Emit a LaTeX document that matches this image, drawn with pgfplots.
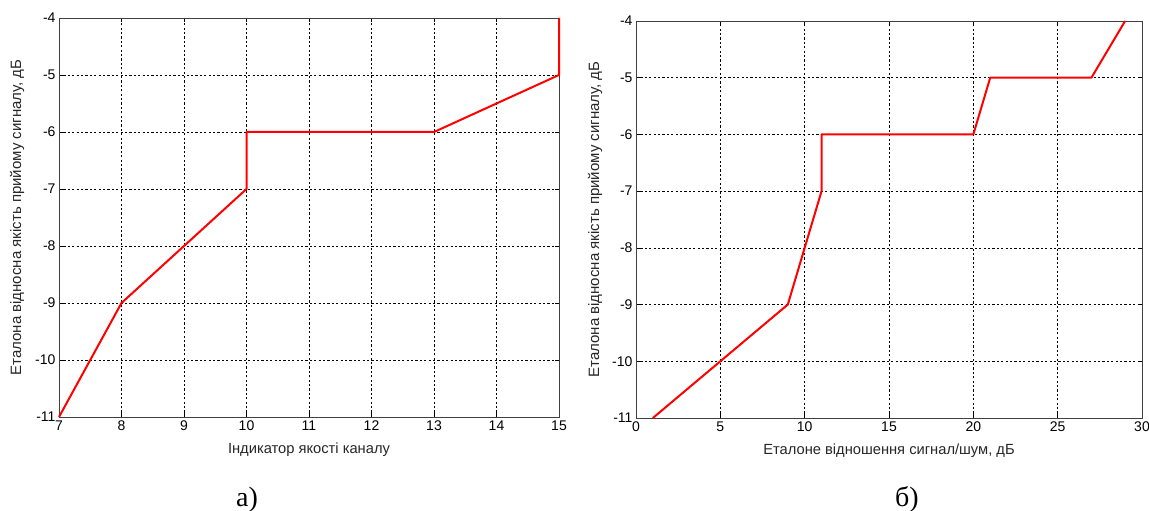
\documentclass[border=0pt]{standalone}
\usepackage{fontspec}
\setmainfont{Liberation Sans}
\newfontfamily\capfont{Liberation Serif}
\usepackage{pgfplots}
\pgfplotsset{compat=1.18}
\begin{document}
\begin{tikzpicture}
\pgfplotsset{
  myaxis/.style={
    scale only axis,
    anchor=south west,
    /pgf/number format/assume math mode=true,
    ticklabel style={font=\fontsize{14}{16}\selectfont, text=black},
    axis line style={black!75, line width=0.8pt},
    tick align=inside,
    major tick length=4pt,
    tick style={black, line width=0.6pt},
    grid=major,
    major grid style={black, line width=0.6pt, dash pattern=on 2.2pt off 2.2pt},
    ymin=-11, ymax=-4,
    ytick={-11,-10,...,-4},
    every axis y label/.style={rotate=90, anchor=center, font=\fontsize{15}{17}\selectfont, text=black!85},
    every axis x label/.style={anchor=center, font=\fontsize{14.7}{17}\selectfont, text=black!85},
  }
}
\begin{axis}[myaxis,
  at={(59pt,94pt)}, width=500pt, height=399pt,
  xmin=7, xmax=15, xtick={7,8,...,15},
  xlabel={Індикатор якості каналу},
  ylabel={Еталона відносна якість прийому сигналу, дБ},
  xlabel style={at={(axis description cs:0.5,-0.0827)}},
  ylabel style={at={(axis description cs:-0.084,0.5)}},
  clip=false]
\addplot[red, line width=2pt, line join=round] coordinates {
(7,-11) (8,-9) (10,-7) (10,-6) (13,-6) (15,-5) (15,-4)};
\end{axis}
\begin{axis}[myaxis,
  at={(636pt,93pt)}, width=506pt, height=397pt,
  xmin=0, xmax=30, xtick={0,5,...,30},
  xlabel={Еталоне відношення сигнал/шум, дБ},
  ylabel={Еталона відносна якість прийому сигналу, дБ},
  xlabel style={at={(axis description cs:0.5,-0.0831)}},
  ylabel style={at={(axis description cs:-0.081,0.5)}},
  clip=false]
\addplot[red, line width=2pt, line join=round] coordinates {
(1,-11) (9,-9) (11,-7) (11,-6) (20,-6) (21,-5) (27,-5) (29,-4)};
\end{axis}
\node[font=\capfont\fontsize{28}{32}\selectfont, anchor=base] at (247pt,4.5pt) {а)};
\node[font=\capfont\fontsize{28}{32}\selectfont, anchor=base] at (907pt,4pt) {б)};
\pgfresetboundingbox
\path[use as bounding box] (0pt,0pt) rectangle (1149pt,511pt);
\end{tikzpicture}
\end{document}
